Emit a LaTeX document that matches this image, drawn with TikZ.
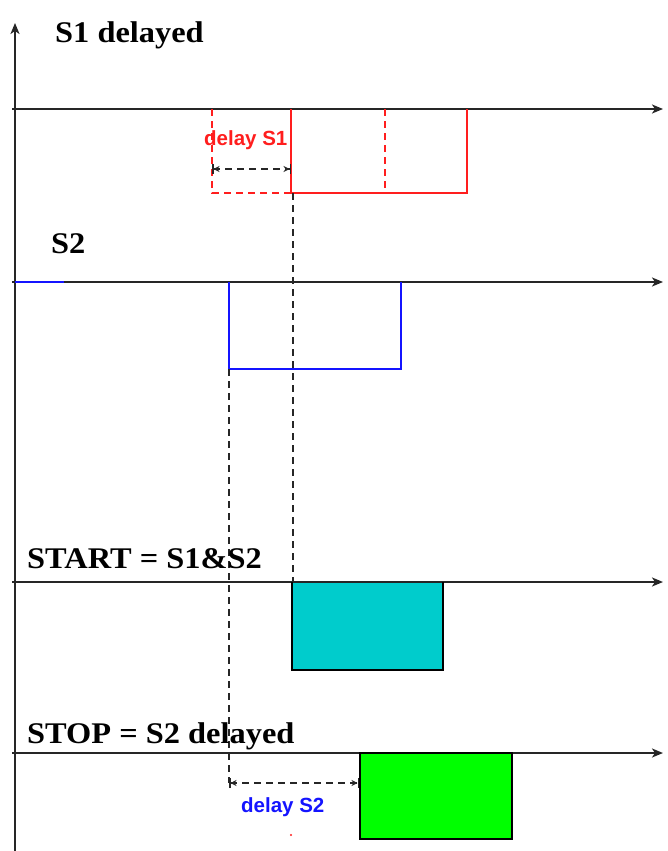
\documentclass[tikz,border=0pt]{standalone}
\usepackage{fontspec}
\setmainfont{Liberation Serif}
\newfontfamily\lblsans{Liberation Sans}
\usetikzlibrary{arrows.meta}
\definecolor{cyanfill}{RGB}{0,204,204}
\definecolor{greenfill}{RGB}{0,255,0}
\definecolor{sigred}{RGB}{255,30,30}
\definecolor{sigblue}{RGB}{20,20,255}
\newcommand{\biglbl}[1]{\scalebox{1.08}[1]{\bfseries\fontsize{30}{34}\selectfont #1}}
\begin{document}
\begin{tikzpicture}[x=1pt,y=-1pt,
  axis/.style={line width=2pt, black!85, -{Stealth[length=11pt,width=9pt,inset=3pt]}},
  sigline/.style={line width=2pt},
  dashline/.style={line width=2pt, dash pattern=on 7pt off 5pt},
  delayarrow/.style={line width=2pt, black!85, dash pattern=on 7pt off 5pt,
     {Bar[width=10pt,line width=1.5pt]Stealth[length=6pt,width=6pt]}-{Stealth[length=6pt,width=6pt]Bar[width=10pt,line width=1.5pt]}},
  title/.style={anchor=base west, inner sep=0pt, text=black},
  small/.style={anchor=base west, inner sep=0pt, font=\lblsans\bfseries\fontsize{20.5}{24}\selectfont}
]
\useasboundingbox (0,0) rectangle (667,851);

% coordinates
\coordinate (vb) at (15,851); \coordinate (vt) at (15,23);
\coordinate (h1s) at (12,109); \coordinate (h1e) at (663,109);
\coordinate (h2s) at (12,282); \coordinate (h2e) at (663,282);
\coordinate (h3s) at (12,582); \coordinate (h3e) at (663,582);
\coordinate (h4s) at (12,753); \coordinate (h4e) at (663,753);

% S1 delayed pulse
\coordinate (r1) at (291,109); \coordinate (r2) at (291,193);
\coordinate (r3) at (467,193); \coordinate (r4) at (467,109);
\coordinate (d1) at (212,109); \coordinate (d2) at (212,193);
\coordinate (m1) at (385,109); \coordinate (m2) at (385,193);
\coordinate (da1) at (212,169); \coordinate (da2) at (291,169);
\coordinate (k1) at (293,193); \coordinate (k2) at (293,582);

% S2 pulse
\coordinate (b0) at (15,282); \coordinate (b00) at (64,282);
\coordinate (b1) at (229,282); \coordinate (b2) at (229,369);
\coordinate (b3) at (401,369); \coordinate (b4) at (401,282);
\coordinate (k3) at (229,369); \coordinate (k4) at (229,783);
\coordinate (db2) at (359,783);

% boxes
\coordinate (c1) at (292,582); \coordinate (c2) at (292,670);
\coordinate (c3) at (443,670); \coordinate (c4) at (443,582);
\coordinate (g1) at (360,753); \coordinate (g2) at (512,839);

% fills first
\fill[cyanfill] (c1) rectangle (c3);
\fill[greenfill] (g1) rectangle (g2);

% axes
\draw[axis] (vb) -- (vt);
\draw[axis] (h1s) -- (h1e);
\draw[axis] (h2s) -- (h2e);
\draw[axis] (h3s) -- (h3e);
\draw[axis] (h4s) -- (h4e);

% box borders
\draw[sigline, black] (c1) -- (c2) -- (c3) -- (c4);
\draw[sigline, black] (g1) rectangle (g2);

% S1 delayed
\draw[sigline, sigred] (r1) -- (r2) -- (r3) -- (r4);
\draw[dashline, sigred] (d1) -- (d2) -- (r2);
\draw[dashline, sigred] (m1) -- (m2);
\draw[delayarrow] (da1) -- (da2);
\draw[dashline, black!85] (k1) -- (k2);

% S2
\draw[sigline, sigblue] (b0) -- (b00);
\draw[sigline, sigblue] (b1) -- (b2) -- (b3) -- (b4);
\draw[dashline, black!85] (k3) -- (k4);
\draw[delayarrow] (k4) -- (db2);

% red dot
\fill[sigred] (291,835) circle (1.2pt);

% labels
\node[title] (t1) at (55,43) {\biglbl{S1 delayed}};
\node[title] (t2) at (51,253) {\biglbl{S2}};
\node[title] (t3) at (27,568) {\biglbl{START = S1\&S2}};
\node[title] (t4) at (27,743) {\biglbl{STOP = S2 delayed}};
\node[small, text=sigred] (l1) at (204,145) {delay S1};
\node[small, text=sigblue] (l2) at (241,812) {delay S2};
\end{tikzpicture}
\end{document}
